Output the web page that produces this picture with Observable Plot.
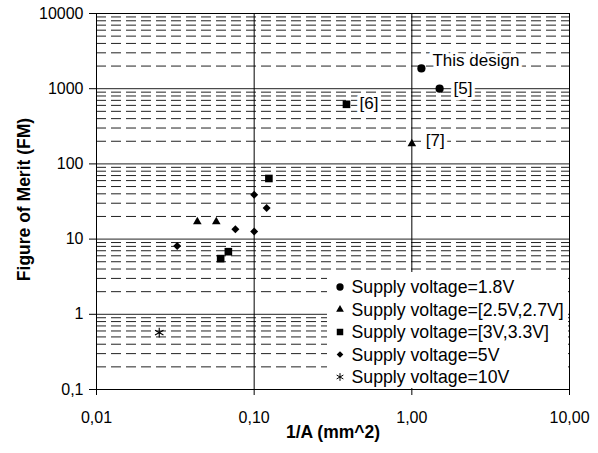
<!DOCTYPE html>
<html>
<head>
<meta charset="utf-8">
<script src="https://cdn.jsdelivr.net/npm/d3@7"></script>
<script src="https://cdn.jsdelivr.net/npm/@observablehq/plot@0.6"></script>
<style>
  body { margin: 0; background: #fff; }
  svg { display: block; }
</style>
</head>
<body>
<div id="chart"></div>
<script>
// ---- Data ----
const seriesNames = [
  "Supply voltage=1.8V",
  "Supply voltage=[2.5V,2.7V]",
  "Supply voltage=[3V,3.3V]",
  "Supply voltage=5V",
  "Supply voltage=10V"
];
const seriesSymbols = ["circle", "triangle", "square", "diamond2", "asterisk"];

const v18X = [1.15, 1.5];
const v18Y = [1860, 1000];
const v25X = [0.0436, 0.0575, 1.0];
const v25Y = [17, 17, 185];
const v3X = [0.0613, 0.0686, 0.124, 0.385];
const v3Y = [5.5, 6.8, 64, 620];
const v5X = [0.0325, 0.076, 0.1, 0.1, 0.12];
const v5Y = [8.1, 13.5, 12.6, 39, 26];
const v10X = [0.025];
const v10Y = [0.57];

const annotationText = ["This design", "[5]", "[6]", "[7]"];
const annotationX = [1.15, 1.5, 0.385, 1.0];
const annotationY = [1860, 1000, 620, 185];

const xTicks = [0.01, 0.1, 1, 10];
const xTickLabels = ["0,01", "0,10", "1,00", "10,00"];
const yTicks = [0.1, 1, 10, 100, 1000, 10000];
const yTickLabels = ["0,1", "1", "10", "100", "1000", "10000"];
const minorMultipliers = [2, 3, 4, 5, 6, 7, 8, 9];
const xMajorGrid = [0.1, 1];

const xTitle = "1/A (mm^2)";
const yTitle = "Figure of Merit (FM)";

// ---- Build tables ----
const seriesX = [v18X, v25X, v3X, v5X, v10X];
const seriesY = [v18Y, v25Y, v3Y, v5Y, v10Y];
const seriesData = seriesX.map((xs, s) => xs.map((x, i) => ({x, y: seriesY[s][i]})));
const annotations = annotationText.map((t, i) => ({t, x: annotationX[i], y: annotationY[i]}));
const yMinor = yTicks.slice(0, -1).flatMap(d => minorMultipliers.map(m => d * m));

// style
const symbolR = [4.1, 3.2, 4.3, 3.6, 4.6];
const annDx = [11, 14, 13, 14];
const annDy = [-8, 0, -1, -3];
const FONT = "'Liberation Sans', Arial, Helvetica, sans-serif";

const dotMarks = seriesData.map((data, s) => seriesSymbols[s] === "asterisk"
  ? Plot.dot(data, {x: "x", y: "y", symbol: seriesSymbols[s], r: symbolR[s], stroke: "black", strokeWidth: 1.1, fill: "none"})
  : Plot.dot(data, {x: "x", y: "y", symbol: seriesSymbols[s], r: symbolR[s], fill: "black", stroke: "none"}));

const chart = Plot.plot({
  width: 598,
  height: 453,
  marginLeft: 96,
  marginRight: 29,
  marginTop: 13,
  marginBottom: 64,
  style: {fontFamily: FONT, fontSize: "16px", color: "black", background: "white"},
  x: {type: "log", domain: [0.01, 10]},
  y: {type: "log", domain: [0.1, 10000]},
  marks: [
    Plot.ruleY(yMinor, {stroke: "#222", strokeWidth: 1, strokeDasharray: "10,5"}),
    Plot.ruleY(yTicks, {stroke: "#222", strokeWidth: 1}),
    Plot.ruleX(xMajorGrid, {stroke: "black", strokeWidth: 1}),
    Plot.frame({stroke: "black"}),
    Plot.axisX(xTicks, {tickFormat: d => xTickLabels[xTicks.indexOf(d)], tickSize: 6, tickPadding: 16, fontSize: 16, label: null}),
    Plot.axisY(yTicks, {tickFormat: d => yTickLabels[yTicks.indexOf(d)], tickSize: 7, tickPadding: 6, fontSize: 16, label: null}),
    Plot.text([xTitle], {frameAnchor: "bottom", textAnchor: "middle", dy: 48, fontWeight: "bold", fontSize: 17.5, fill: "black"}),
    Plot.text([yTitle], {frameAnchor: "left", textAnchor: "middle", dx: -72, dy: -2, rotate: -90, fontWeight: "bold", fontSize: 17.5, fill: "black"}),
    ...annotations.map((a, i) => Plot.text([a], {x: "x", y: "y", text: "t", textAnchor: "start", dx: annDx[i], dy: annDy[i], fontSize: 17, fill: "black", stroke: "white", strokeWidth: 7})),
    ...dotMarks
  ]
});

document.getElementById("chart").appendChild(chart);

// ---- Legend inside plot (Excel style, white background, no border) ----
const svg = d3.select(chart);
const d3Symbols = {circle: d3.symbolCircle, triangle: d3.symbolTriangle, square: d3.symbolSquare, diamond2: d3.symbolDiamond2, asterisk: d3.symbolAsterisk};
const legendSizes = [42, 26, 42, 28, 42];
const plotRight = 598 - 29, plotBottom = 453 - 64;
const lg = svg.append("g")
  .attr("font-family", FONT)
  .attr("font-size", 17.7)
  .attr("text-anchor", "start");
lg.append("rect")
  .attr("x", 327).attr("y", 272)
  .attr("width", plotRight - 327 - 1)
  .attr("height", plotBottom - 272 - 1)
  .attr("fill", "white")
  .style("fill", "#ffffff")
  .style("stroke", "none");
seriesNames.forEach((name, i) => {
  const cy = 287 + i * 22.5;
  const p = lg.append("path")
    .attr("transform", `translate(340,${cy})`)
    .attr("d", d3.symbol(d3Symbols[seriesSymbols[i]], legendSizes[i])());
  if (seriesSymbols[i] === "asterisk") p.attr("fill", "none").attr("stroke", "black");
  else p.attr("fill", "black");
  lg.append("text")
    .attr("x", 351.5).attr("y", cy).attr("dy", "0.35em")
    .attr("text-anchor", "start")
    .attr("fill", "black")
    .text(name);
});
</script>
</body>
</html>
